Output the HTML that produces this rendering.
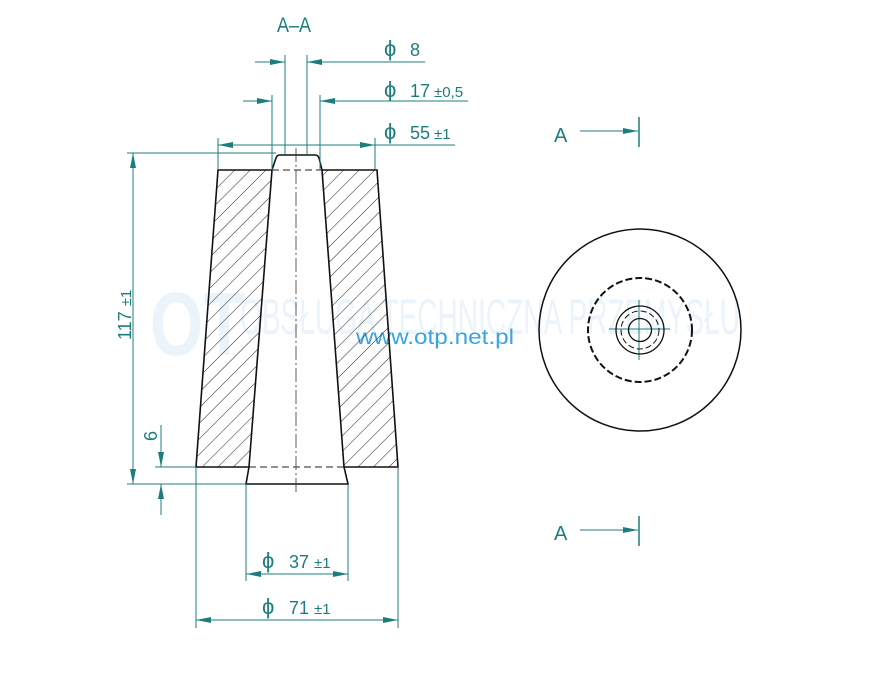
<!DOCTYPE html>
<html><head><meta charset="utf-8"><style>
html,body{margin:0;padding:0;background:#fff;width:869px;height:676px;overflow:hidden}
svg{display:block}
text{font-family:"Liberation Sans",sans-serif}
</style></head><body>
<svg width="869" height="676" viewBox="0 0 869 676" xmlns="http://www.w3.org/2000/svg">
<defs>
<pattern id="h" patternUnits="userSpaceOnUse" width="11" height="11" patternTransform="rotate(45)">
<line x1="0" y1="0" x2="0" y2="11" stroke="#222" stroke-width="1"/>
</pattern>
<marker id="a" viewBox="0 0 15 8" refX="15" refY="4" markerWidth="15" markerHeight="8" orient="auto-start-reverse" markerUnits="userSpaceOnUse"><path d="M0,1 L15,4 L0,7z" fill="#1d7d7d"/></marker>
</defs>
<!-- watermark -->
<g fill="#eaf4fa">
<text x="150" y="355" font-size="90" font-weight="bold" textLength="95" lengthAdjust="spacingAndGlyphs">OT</text>
<text x="240" y="334" font-size="50" textLength="500" lengthAdjust="spacingAndGlyphs">OBSŁUGA TECHNICZNA PRZEMYSŁU</text>
</g>
<text x="356" y="344" font-size="21" fill="#3aa3e0" textLength="158" lengthAdjust="spacingAndGlyphs">www.otp.net.pl</text>

<polygon points="218,170 272,170 249,467 196,467" fill="url(#h)" stroke="#111" stroke-width="1.6"/>
<polygon points="322,170 377,170 398,467 344,467" fill="url(#h)" stroke="#111" stroke-width="1.6"/>
<path d="M272,170 L276,158 Q277,155 280,155 L315,155 Q318,155 319,158 L322,170" fill="none" stroke="#111" stroke-width="1.6"/>
<path d="M249,467 L246,484 L348,484 L344,467" fill="none" stroke="#111" stroke-width="1.6"/>
<line x1="272" y1="170" x2="322" y2="170" stroke="#222" stroke-dasharray="7,4"/>
<line x1="249" y1="467" x2="344" y2="467" stroke="#222" stroke-dasharray="7,4"/>
<line x1="296" y1="148" x2="296" y2="494" stroke="#333" stroke-width="0.8" stroke-dasharray="14,3,2,3"/>

<g stroke="#1d7d7d" stroke-width="1" fill="none">
<line x1="285" y1="55" x2="285" y2="155"/><line x1="307" y1="55" x2="307" y2="155"/>
<line x1="255" y1="62" x2="285" y2="62" marker-end="url(#a)"/>
<line x1="425" y1="62" x2="307" y2="62" marker-end="url(#a)"/>
<line x1="272" y1="95" x2="272" y2="170"/><line x1="320" y1="95" x2="320" y2="170"/>
<line x1="243" y1="101" x2="272" y2="101" marker-end="url(#a)"/>
<line x1="468" y1="101" x2="320" y2="101" marker-end="url(#a)"/>
<line x1="218" y1="138" x2="218" y2="170"/><line x1="375" y1="138" x2="375" y2="170"/>
<line x1="218" y1="145" x2="375" y2="145" marker-start="url(#a)" marker-end="url(#a)"/>
<line x1="375" y1="145" x2="455" y2="145"/>
<line x1="127" y1="153" x2="276" y2="153"/>
<line x1="127" y1="484" x2="246" y2="484"/>
<line x1="133" y1="153" x2="133" y2="484" marker-start="url(#a)" marker-end="url(#a)"/>
<line x1="155" y1="467" x2="196" y2="467"/>
<line x1="161" y1="425" x2="161" y2="467" marker-end="url(#a)"/>
<line x1="161" y1="515" x2="161" y2="484" marker-end="url(#a)"/>
<line x1="246" y1="484" x2="246" y2="581"/><line x1="348" y1="484" x2="348" y2="581"/>
<line x1="246" y1="574" x2="348" y2="574" marker-start="url(#a)" marker-end="url(#a)"/>
<line x1="196" y1="467" x2="196" y2="628"/><line x1="398" y1="467" x2="398" y2="628"/>
<line x1="196" y1="620" x2="398" y2="620" marker-start="url(#a)" marker-end="url(#a)"/>
<line x1="580" y1="131" x2="638" y2="131" marker-end="url(#a)"/>
<line x1="639" y1="117" x2="639" y2="147" stroke-width="1.5"/>
<line x1="580" y1="530" x2="638" y2="530" marker-end="url(#a)"/>
<line x1="639" y1="516" x2="639" y2="546" stroke-width="1.5"/>
<line x1="609" y1="329" x2="670" y2="329"/>
<line x1="639" y1="300" x2="639" y2="360"/>
</g>

<g fill="#1d7d7d" font-size="18">
<text x="277" y="32" font-size="21" textLength="34" lengthAdjust="spacingAndGlyphs">A–A</text>
<text x="384" y="56" font-size="22">ϕ</text><text x="410" y="56">8</text>
<text x="384" y="97" font-size="22">ϕ</text><text x="410" y="97">17</text><text x="434" y="97" font-size="15">±0,5</text>
<text x="384" y="139" font-size="22">ϕ</text><text x="410" y="139">55</text><text x="434" y="139" font-size="15">±1</text>
<text transform="translate(131,340) rotate(-90)">117 <tspan font-size="15">±1</tspan></text>
<text transform="translate(157,441) rotate(-90)">6</text>
<text x="262" y="568" font-size="22">ϕ</text><text x="289" y="568">37</text><text x="314" y="568" font-size="15">±1</text>
<text x="262" y="614" font-size="22">ϕ</text><text x="289" y="614">71</text><text x="314" y="614" font-size="15">±1</text>
<text x="554" y="142" font-size="20">A</text>
<text x="554" y="540" font-size="20">A</text>
</g>

<g fill="none" stroke="#111">
<circle cx="640" cy="330" r="101" stroke-width="1.5"/>
<circle cx="640" cy="330" r="52" stroke-width="2" stroke-dasharray="7,3"/>
<circle cx="640" cy="330" r="24" stroke-width="1.3"/>
<circle cx="640" cy="330" r="19" stroke-width="1" stroke-dasharray="6,3"/>
<circle cx="640" cy="330" r="11.5" stroke-width="1.3"/>
</g>
</svg>
</body></html>
